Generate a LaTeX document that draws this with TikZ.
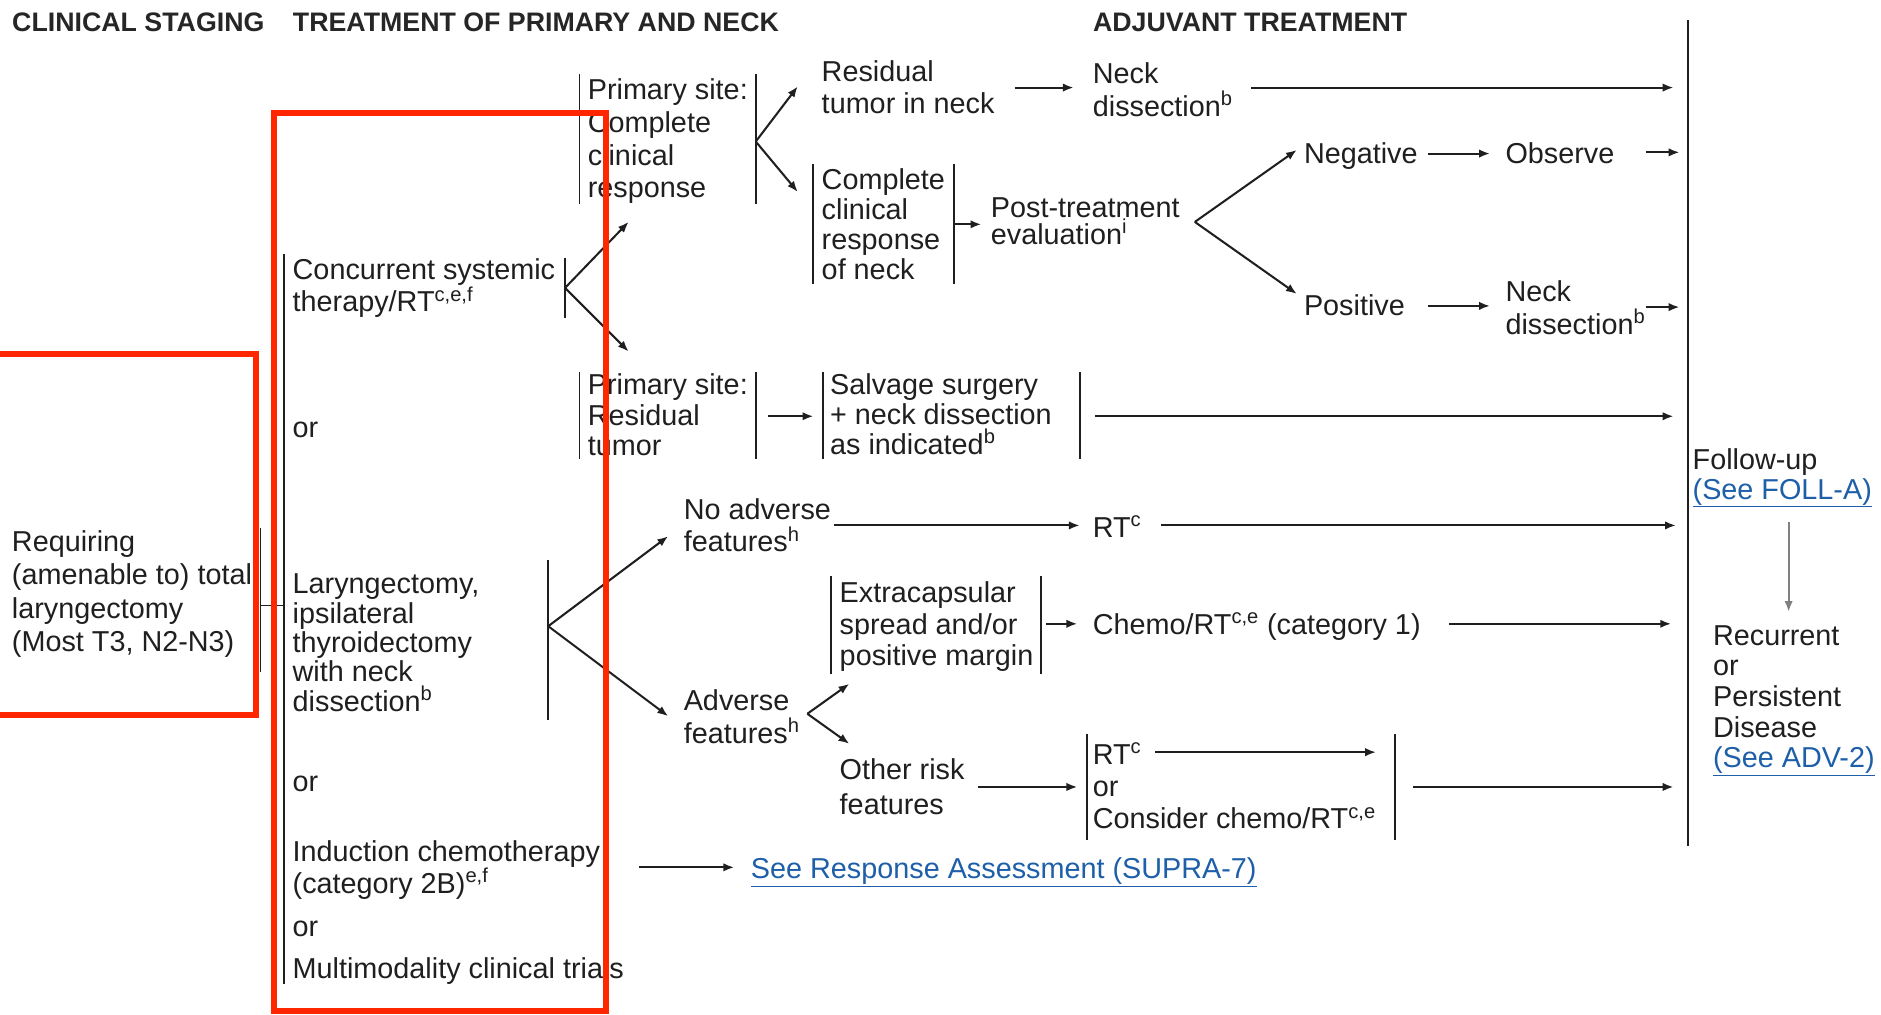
\documentclass[tikz,border=0pt]{standalone}
\usepackage{fontspec}
\setmainfont{Liberation Sans}
\usetikzlibrary{arrows.meta}
\definecolor{hlred}{RGB}{255,38,0}
\definecolor{linkblue}{RGB}{30,95,170}
\newcommand{\bfs}[1]{\fontsize{24}{#1}\selectfont}
\newcommand{\headfont}{\fontsize{22.3}{26}\selectfont\bfseries}

\begin{document}
% multi-line labels are placed by the baseline of their last line
\begin{tikzpicture}[x=1pt,y=-1pt,
  txt/.style={anchor=base west, inner sep=0pt, outer sep=0pt, align=left, font=\bfs{26.5}, text=black!88},
  head/.style={anchor=base west, inner sep=0pt, font=\headfont, text=black!85},
  lnk/.style={txt, text=linkblue},
  arr/.style={draw=black!88, line width=1.7pt, -{Latex[length=9pt,width=7pt]}},
  garr/.style={draw=black!50, line width=1.6pt, -{Latex[length=9pt,width=7pt]}},
  bar/.style={draw=black!88, line width=1.5pt},
  hl/.style={draw=hlred, line width=5pt}]
\useasboundingbox (0,0) rectangle (1568,846);
\fill[white] (0,0) rectangle (1568,846);

% column headings
\node[head] (hstage) at (10,26) {CLINICAL STAGING};
\node[head] (htreat) at (244,26) {TREATMENT OF PRIMARY AND NECK};
\node[head] (hadj) at (911,26) {ADJUVANT TREATMENT};

% clinical staging
\node[txt, font=\bfs{27.7}] (req) at (10,543) {Requiring\\(amenable to) total\\laryngectomy\\(Most T3, N2-N3)};
\draw[bar, line width=1pt] (217,440) -- (217,560);
\coordinate (reqJ) at (217,505);
\coordinate (mainJ) at (237,505);
\draw[bar, line width=1pt] (reqJ) -- (mainJ);
\draw[bar] (237,212) -- (237,820);

% primary treatment options
\node[txt, font=\bfs{24}] (crt) at (244,260) {Concurrent systemic\\therapy/RT\textsuperscript{c,e,f}};
\draw[bar] (471,215) -- (471,265);
\node[txt] (or1) at (244,365) {or};
\node[txt, font=\bfs{24.5}] (lar) at (244,593) {Laryngectomy,\\ipsilateral\\thyroidectomy\\with neck\\dissection\textsuperscript{b}};
\draw[bar] (457,467) -- (457,600);
\node[txt] (or2) at (244,660) {or};
\node[txt, font=\bfs{27}] (ind) at (244,745) {Induction chemotherapy\\(category 2B)\textsuperscript{e,f}};
\node[txt] (or3) at (244,781) {or};
\node[txt] (mm) at (244,816) {Multimodality clinical trials};

\coordinate (crtJ) at (471,240);
\coordinate (crtU) at (524,185);
\coordinate (crtD) at (524,293);
\draw[arr] (crtJ) -- (crtU);
\draw[arr] (crtJ) -- (crtD);

% complete clinical response at the primary site
\node[txt, font=\bfs{27.3}] (pcr) at (490,165) {Primary site:\\Complete\\clinical\\response};
\draw[bar] (483,62) -- (483,170);
\draw[bar] (630,62) -- (630,170);
\coordinate (pcrJ) at (630,118);
\coordinate (pcrU) at (665,72);
\coordinate (pcrD) at (665,160);
\draw[arr] (pcrJ) -- (pcrU);
\draw[arr] (pcrJ) -- (pcrD);

\node[txt, font=\bfs{27}] (rtn) at (685,95) {Residual\\tumor in neck};
\coordinate (rtnE) at (846,73);
\coordinate (nd1W) at (895,73);
\draw[arr] (rtnE) -- (nd1W);
\node[txt, font=\bfs{27}] (nd1) at (911,97) {Neck\\dissection\textsuperscript{b}};
\coordinate (nd1E) at (1043,73);
\coordinate (fu1) at (1395,73);
\draw[arr] (nd1E) -- (fu1);

\node[txt, font=\bfs{25}] (ccn) at (685,233) {Complete\\clinical\\response\\of neck};
\draw[bar] (678,137) -- (678,237);
\draw[bar] (795,137) -- (795,237);
\coordinate (ccnE) at (795,187);
\coordinate (pteW) at (818,187);
\draw[arr] (ccnE) -- (pteW);
\node[txt, font=\bfs{20.5}] (pte) at (826,204) {Post-treatment\\evaluation\textsuperscript{i}};
\coordinate (pteJ) at (996,185);
\coordinate (negW) at (1081,125);
\coordinate (posW) at (1081,245);
\draw[arr] (pteJ) -- (negW);
\draw[arr] (pteJ) -- (posW);

\node[txt] (neg) at (1087,136) {Negative};
\coordinate (negE) at (1190,128);
\coordinate (obsW) at (1242,128);
\draw[arr] (negE) -- (obsW);
\node[txt] (obs) at (1255,136) {Observe};
\coordinate (obsE) at (1372,127);
\coordinate (fu2) at (1400,127);
\draw[arr] (obsE) -- (fu2);

\node[txt] (pos) at (1087,263) {Positive};
\coordinate (posE) at (1190,255);
\coordinate (nd2W) at (1242,255);
\draw[arr] (posE) -- (nd2W);
\node[txt, font=\bfs{28}] (nd2) at (1255,279) {Neck\\dissection\textsuperscript{b}};
\coordinate (nd2E) at (1372,256);
\coordinate (fu3) at (1400,256);
\draw[arr] (nd2E) -- (fu3);

% residual tumor at the primary site
\node[txt, font=\bfs{25.5}] (prt) at (490,380) {Primary site:\\Residual\\tumor};
\draw[bar] (483,310) -- (483,383);
\draw[bar] (630,310) -- (630,383);
\coordinate (prtE) at (640,347);
\coordinate (salW) at (678,347);
\draw[arr] (prtE) -- (salW);
\node[txt, font=\bfs{25}] (sal) at (692,379) {Salvage surgery\\+ neck dissection\\as indicated\textsuperscript{b}};
\draw[bar] (686,310) -- (686,383);
\draw[bar] (900,310) -- (900,383);
\coordinate (salE) at (913,347);
\coordinate (fu4) at (1395,347);
\draw[arr] (salE) -- (fu4);

% surgical pathway
\coordinate (larJ) at (457,522);
\coordinate (noadvW) at (557,447);
\coordinate (advW) at (557,597);
\draw[arr] (larJ) -- (noadvW);
\draw[arr] (larJ) -- (advW);

\node[txt, font=\bfs{27}] (noadv) at (570,460) {No adverse\\features\textsuperscript{h}};
\coordinate (noadvE) at (695,438);
\coordinate (rt1W) at (900,438);
\draw[arr] (noadvE) -- (rt1W);
\node[txt] (rt1) at (911,448) {RT\textsuperscript{c}};
\coordinate (rt1E) at (968,438);
\coordinate (fu5) at (1397,438);
\draw[arr] (rt1E) -- (fu5);

\node[txt, font=\bfs{26.5}] (ecs) at (700,555) {Extracapsular\\spread and/or\\positive margin};
\draw[bar] (693,480) -- (693,562);
\draw[bar] (868,480) -- (868,562);
\coordinate (ecsE) at (872,520);
\coordinate (chemoW) at (898,520);
\draw[arr] (ecsE) -- (chemoW);
\node[txt] (chemo) at (911,529) {Chemo/RT\textsuperscript{c,e} (category 1)};
\coordinate (chemoE) at (1208,520);
\coordinate (fu6) at (1393,520);
\draw[arr] (chemoE) -- (fu6);

\node[txt, font=\bfs{28}] (adv) at (570,620) {Adverse\\features\textsuperscript{h}};
\coordinate (advJ) at (673,595);
\coordinate (ecsS) at (708,570);
\coordinate (orfN) at (708,620);
\draw[arr] (advJ) -- (ecsS);
\draw[arr] (advJ) -- (orfN);

\node[txt, font=\bfs{29}] (orf) at (700,679) {Other risk\\features};
\coordinate (orfE) at (815,656);
\coordinate (rtorW) at (898,656);
\draw[arr] (orfE) -- (rtorW);
\node[txt, font=\bfs{27}] (rtor) at (911,691) {RT\textsuperscript{c}\\or\\Consider chemo/RT\textsuperscript{c,e}};
\draw[bar] (906,612) -- (906,700);
\coordinate (rtcE) at (963,627);
\coordinate (rtcT) at (1147,627);
\draw[arr] (rtcE) -- (rtcT);
\draw[bar] (1163,612) -- (1163,700);
\coordinate (rtorE) at (1178,656);
\coordinate (fu7) at (1395,656);
\draw[arr] (rtorE) -- (fu7);

% induction chemotherapy
\coordinate (indE) at (533,723);
\coordinate (sraW) at (612,723);
\draw[arr] (indE) -- (sraW);
\node[lnk] (sra) at (626,732) {\underline{See Response Assessment (SUPRA-7)}};

% follow-up
\draw[bar] (1407,17) -- (1407,705);
\node[txt, font=\bfs{25}] (fu) at (1411,416) {Follow-up\\\textcolor{linkblue}{\underline{(See FOLL-A)}}};
\coordinate (fuS) at (1491,435);
\coordinate (recN) at (1491,510);
\draw[garr] (fuS) -- (recN);
\node[txt, font=\bfs{25.5}] (rec) at (1428,640) {Recurrent\\or\\Persistent\\Disease\\\textcolor{linkblue}{\underline{(See ADV-2)}}};

% highlight frames
\draw[hl] (228,94) rectangle (505,843);
\draw[hl] (-10,295) rectangle (213,596);
\end{tikzpicture}
\end{document}
